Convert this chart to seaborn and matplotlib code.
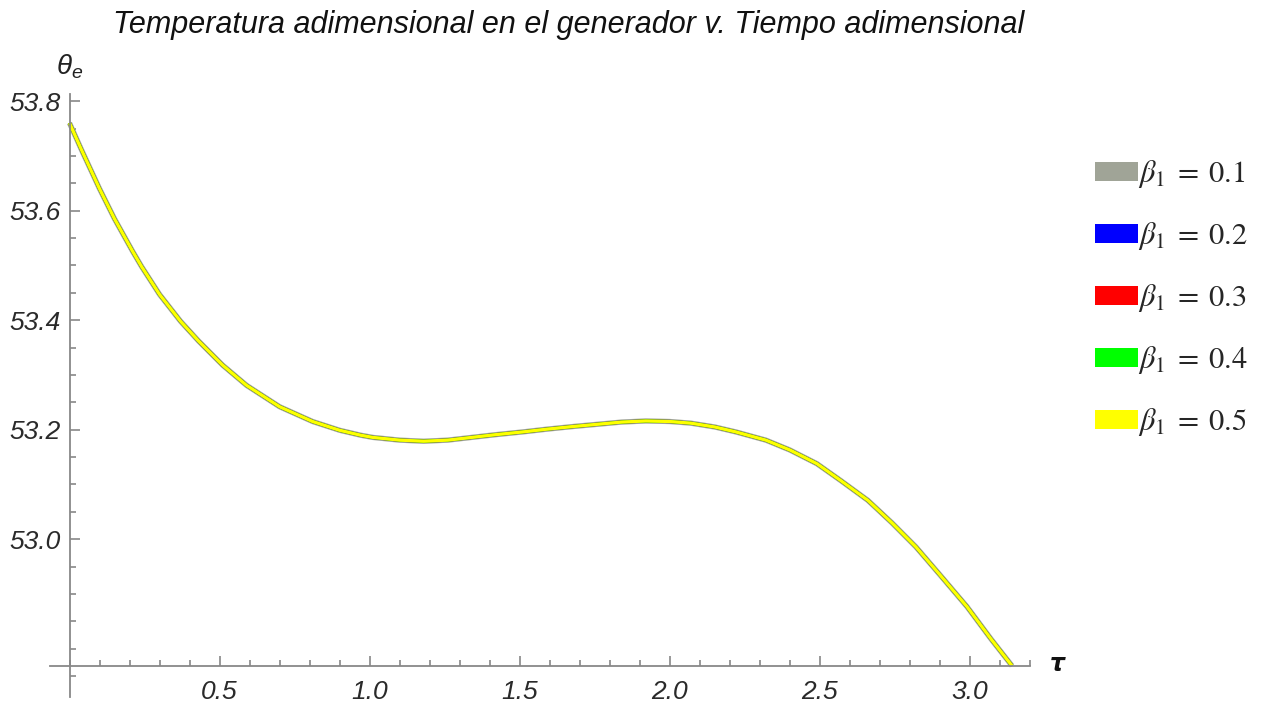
import matplotlib
matplotlib.use("Agg")
import matplotlib.pyplot as plt
from matplotlib.patches import Patch
from matplotlib.ticker import FixedLocator, MultipleLocator, FormatStrFormatter
from matplotlib.font_manager import FontProperties
import seaborn as sns
import pandas as pd

# Dimensionless time and generator temperature (all beta_1 curves coincide)
tau = [0.00, 0.04, 0.10, 0.15, 0.21, 0.24, 0.30, 0.37, 0.43, 0.51, 0.59, 0.70,
       0.81, 0.90, 0.97, 1.01, 1.10, 1.18, 1.26, 1.34, 1.42, 1.51, 1.59, 1.68,
       1.76, 1.84, 1.92, 2.00, 2.07, 2.15, 2.22, 2.32, 2.40, 2.49, 2.57, 2.66,
       2.74, 2.82, 2.90, 2.99, 3.07, 3.14]
theta_e = [53.760, 53.711, 53.640, 53.585, 53.526, 53.498, 53.447, 53.398, 53.362,
           53.318, 53.281, 53.242, 53.215, 53.199, 53.190, 53.186, 53.181, 53.179,
           53.181, 53.186, 53.191, 53.196, 53.201, 53.206, 53.210, 53.214, 53.216,
           53.215, 53.212, 53.205, 53.196, 53.181, 53.163, 53.138, 53.107, 53.071,
           53.030, 52.986, 52.935, 52.877, 52.818, 52.769]
beta_values = [0.1, 0.2, 0.3, 0.4, 0.5]
beta_colors = ["#a0a497", "#0000ff", "#ff0000", "#00ff00", "#ffff00"]
beta_widths = [3.8, 2.3, 2.3, 2.3, 2.3]
y_major_ticks = [53.0, 53.2, 53.4, 53.6, 53.8]
x_major_ticks = [0.5, 1.0, 1.5, 2.0, 2.5, 3.0]

df = pd.concat(
    [pd.DataFrame({"tau": tau, "theta": theta_e, "beta": b}) for b in beta_values],
    ignore_index=True,
)

sns.set_style("white")
plt.rcParams["font.family"] = ["Liberation Sans", "DejaVu Sans"]
plt.rcParams["mathtext.it"] = "Liberation Sans:italic"
plt.rcParams["mathtext.rm"] = "Liberation Sans:italic"

fig = plt.figure(figsize=(12.7, 7.02), dpi=100)
ax = fig.add_axes([50 / 1270, 5 / 702, 980 / 1270, 603 / 702])

for b, c, lw in zip(beta_values, beta_colors, beta_widths):
    sns.lineplot(data=df[df["beta"] == b], x="tau", y="theta", color=c,
                 linewidth=lw, ax=ax, legend=False, solid_capstyle="butt")

y_cross = 52.769
ax.set_xlim(-0.065, 3.2)
ax.set_ylim(52.712, 53.813)

for side in ("top", "right"):
    ax.spines[side].set_visible(False)
ax.spines["left"].set_position(("data", 0))
ax.spines["bottom"].set_position(("data", y_cross))
for side in ("left", "bottom"):
    ax.spines[side].set_color("#888888")
    ax.spines[side].set_linewidth(1.3)

ax.xaxis.set_major_locator(FixedLocator(x_major_ticks))
ax.xaxis.set_minor_locator(MultipleLocator(0.1))
ax.yaxis.set_major_locator(FixedLocator(y_major_ticks))
ax.yaxis.set_minor_locator(MultipleLocator(0.05))
ax.xaxis.set_major_formatter(FormatStrFormatter("%.1f"))
ax.yaxis.set_major_formatter(FormatStrFormatter("%.1f"))
ax.tick_params(which="both", direction="in", color="#888888", width=1.2,
               bottom=True, left=True, top=False, right=False)
ax.tick_params(which="major", length=7)
ax.tick_params(which="minor", length=4)
ax.tick_params(axis="x", which="major", pad=10)
ax.tick_params(axis="y", which="major", pad=6.5)
for lab in ax.get_xticklabels() + ax.get_yticklabels():
    lab.set_fontstyle("italic")
    lab.set_fontsize(19)
    lab.set_color("#2a2a2a")
ax.set_xlabel("")
ax.set_ylabel("")

fig.text(113 / 1270, 1 - 25 / 702,
         "Temperatura adimensional en el generador v. Tiempo adimensional",
         fontsize=22, fontstyle="italic", va="center", ha="left", color="#111111")
fig.text(56 / 1270, 1 - 67 / 702, r"$\theta_{e}$", fontsize=20,
         va="center", ha="left", color="#222222", math_fontfamily="custom")
fig.text(1050 / 1270, 1 - 664 / 702, "τ", fontsize=17, fontstyle="italic",
         fontweight="bold", va="center", ha="left", color="#111111",
         family=["DejaVu Sans"])

handles = [Patch(facecolor=c, edgecolor="none") for c in beta_colors]
labels = [rf"$\beta_1 \;=\; {b}$" for b in beta_values]
fig.legend(handles, labels, loc="upper left",
           bbox_to_anchor=(1095 / 1270, 1 - 158.5 / 702), frameon=False,
           prop=FontProperties(size=22, math_fontfamily="stix"),
           handlelength=1.4, handleheight=0.57, handletextpad=0.0,
           labelspacing=0.98, borderaxespad=0, borderpad=0)

fig.savefig("out.png", dpi=100)
